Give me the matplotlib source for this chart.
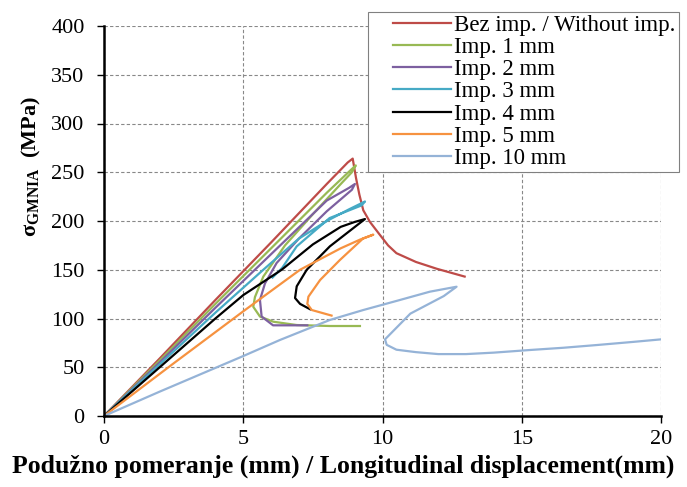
import matplotlib
matplotlib.use("Agg")
import matplotlib.pyplot as plt
from matplotlib.legend_handler import HandlerLine2D

plt.rcParams['font.family'] = ['Liberation Serif', 'DejaVu Serif']
plt.rcParams['mathtext.fontset'] = 'custom'
plt.rcParams['mathtext.rm'] = 'Liberation Serif'
plt.rcParams['mathtext.bf'] = 'Liberation Serif:bold'

# curves (displacement mm, stress MPa)
red_x = [0, 2, 4, 6, 8, 8.75, 8.93, 9.05, 9.17, 9.31, 9.55, 9.9, 10.2, 10.5, 11.2, 11.95, 12.95]
red_y = [0, 59, 119, 178, 238, 260, 264, 244, 227, 211, 199, 186, 175, 167, 158, 151, 143]

green_x = [0, 2, 4, 6, 8, 8.85, 9.04, 8.9, 8.47, 7.5, 6.5, 5.72, 5.42, 5.36, 5.6, 6.08, 6.92, 8.11, 9.19]
green_y = [0, 57, 115, 172, 229, 252, 257, 250, 237, 207, 175, 143, 122, 112, 102, 96.7, 93.3, 92.3, 92.3]

purple_x = [0, 2, 4, 6, 8, 8.8, 9.01, 8.9, 8.0, 7.0, 6.2, 5.78, 5.6, 5.66, 6.07, 7.3]
purple_y = [0, 55, 111, 166, 221, 234, 238, 232, 210, 182, 157, 136, 119, 102, 93, 93]

cyan_x = [0, 2, 4, 5.72, 7.0, 8.0, 8.8, 9.37, 9.25, 8.1, 6.92, 6.4, 6.05]
cyan_y = [0, 53, 106, 150, 182, 200, 212, 220, 216, 203, 174, 152, 142]

black_x = [0, 2, 4, 5, 6.38, 7.5, 8.5, 9.0, 9.37, 8.11, 7.28, 6.92, 6.86, 7.04, 7.4]
black_y = [0, 50, 100, 124, 150, 176, 194, 199, 202, 174, 150, 133, 121, 115, 109.5]

orange_x = [0, 2.5, 5.03, 7.04, 8.5, 9.2, 9.67, 9.3, 8.47, 7.76, 7.34, 7.3, 7.46, 8.17]
orange_y = [0, 54, 108, 150, 172, 181, 186, 182, 160, 139.5, 122.4, 115, 108.7, 103]

blue_x = [0, 2, 5, 6.32, 8.11, 9.31, 10.5, 11.7, 12.66, 12.2, 11.0, 10.09, 10.15, 10.5,
          11.2, 12.0, 13.0, 14.0, 15.3, 16.5, 17.7, 19.0, 20.0]
blue_y = [0, 25, 61.5, 78, 98.5, 108.7, 118, 127.5, 132.6, 123, 105, 78.6, 73, 68,
          65.5, 63.5, 63.5, 65, 67.7, 70, 72.8, 76, 78.6]

labels = ['Bez imp. / Without imp.', 'Imp. 1 mm', 'Imp. 2 mm', 'Imp. 3 mm',
          'Imp. 4 mm', 'Imp. 5 mm', 'Imp. 10 mm']
colors = ['#BE4B48', '#98B954', '#7D60A0', '#46AAC5', '#000000', '#F69240', '#95B3D7']
series = [(red_x, red_y), (green_x, green_y), (purple_x, purple_y), (cyan_x, cyan_y),
          (black_x, black_y), (orange_x, orange_y), (blue_x, blue_y)]

fig = plt.figure(figsize=(6.87, 4.87), dpi=100)
ax = fig.add_axes([104/687, 71/487, 557/687, 390/487])

lines = []
for (xs, ys), c, lab in zip(series, colors, labels):
    ln, = ax.plot(xs, ys, color=c, lw=1.6, label=lab)
    lines.append(ln)

ax.set_xlim(0, 20)
ax.set_ylim(0, 400)
ax.set_xticks([0, 5, 10, 15, 20])
ax.set_yticks(range(0, 401, 50))
ax.grid(True, ls=(0, (3, 2)), color='#888888', lw=0.8)
ax.spines['top'].set_visible(False)
ax.spines['right'].set_visible(False)
ax.spines['left'].set_linewidth(1.8)
ax.spines['bottom'].set_linewidth(1.8)
ax.tick_params(direction='out', length=5, width=1, labelsize=16)
ax.tick_params(axis='x', pad=5)
ax.tick_params(axis='y', pad=9)

ax.set_xlabel('Podužno pomeranje (mm) / Longitudinal displacement(mm)',
              fontsize=18.5, fontweight='bold')
ax.xaxis.set_label_coords(0.43, -0.1)
ax.set_ylabel(r'$\mathbf{\sigma}_{\mathbf{GMNIA}}$  (MPa)', fontsize=16, fontweight='bold')
ax.yaxis.set_label_coords(-0.11, 0.64)

leg = ax.legend(handles=lines, loc='upper left', bbox_to_anchor=(368/687, 1 - 12/487),
                bbox_transform=fig.transFigure, fontsize=16.5, frameon=True,
                fancybox=False, edgecolor='#808080', framealpha=1,
                handlelength=3.5, handletextpad=0.15, labelspacing=0.05,
                borderpad=0.12, borderaxespad=0,
                handler_map={ln: HandlerLine2D(xpad=0.95) for ln in lines})
leg.get_frame().set_linewidth(0.8)

fig.savefig('out.png', dpi=100)
